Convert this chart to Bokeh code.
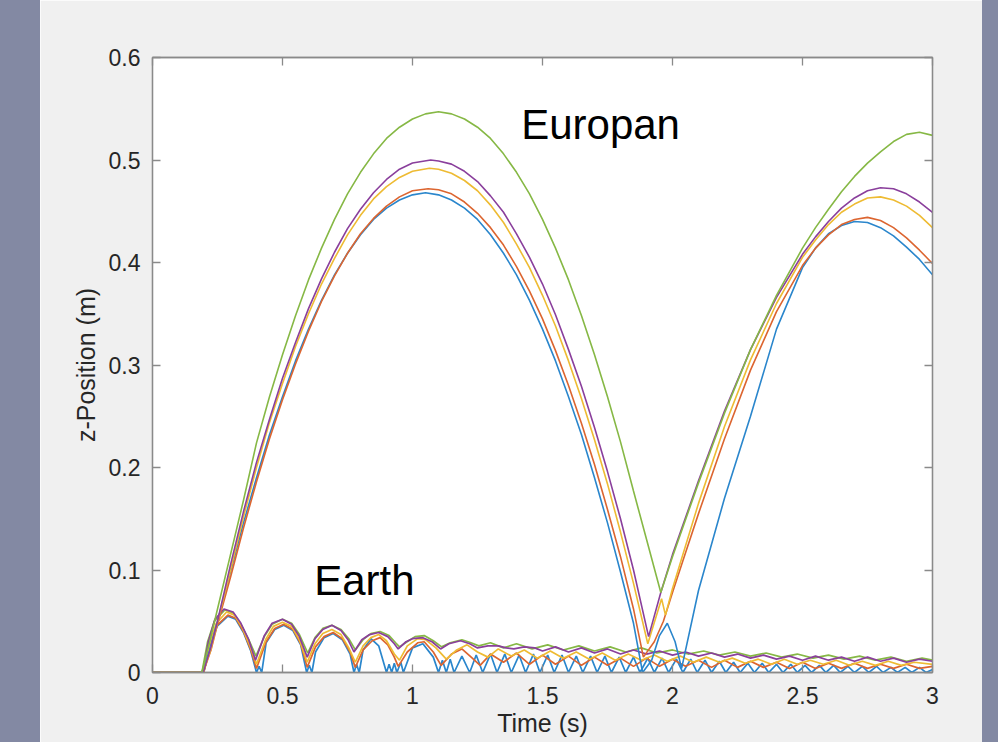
from bokeh.plotting import figure
from bokeh.models import Range1d, LinearAxis, FixedTicker, Label, Div
from bokeh.layouts import row
from bokeh.embed import file_html
from bokeh.resources import INLINE

# ---------------- data ----------------
x_ticks = [0, 0.5, 1, 1.5, 2, 2.5, 3]
x_tick_labels = ["0", "0.5", "1", "1.5", "2", "2.5", "3"]
y_ticks = [0, 0.1, 0.2, 0.3, 0.4, 0.5, 0.6]
y_tick_labels = ["0", "0.1", "0.2", "0.3", "0.4", "0.5", "0.6"]

# Europa runs (time s, z m)
eu_blue_t = [0, 0.19, 0.22, 0.25, 0.3, 0.35, 0.4, 0.45, 0.5, 0.55, 0.6, 0.65, 0.7, 0.75, 0.8, 0.85, 0.9, 0.95, 1.0, 1.05,
             1.1, 1.15, 1.2, 1.25, 1.3, 1.35, 1.4, 1.45, 1.5, 1.55, 1.6, 1.65, 1.7, 1.75, 1.8, 1.85,
             1.885, 1.92, 1.95, 1.98, 2.01, 2.035, 2.1, 2.2, 2.3, 2.4, 2.5, 2.55, 2.6, 2.65, 2.7, 2.75, 2.8, 2.85, 2.9, 2.95, 3.0]
eu_blue_z = [0, 0, 0.022, 0.05, 0.098, 0.146, 0.19, 0.232, 0.269, 0.304, 0.335, 0.363, 0.388, 0.409, 0.427, 0.442, 0.453, 0.461, 0.466, 0.468,
             0.466, 0.461, 0.453, 0.442, 0.427, 0.409, 0.388, 0.363, 0.335, 0.304, 0.269, 0.232, 0.19, 0.146, 0.098, 0.048,
             0.0, 0.012, 0.036, 0.048, 0.03, 0.004, 0.08, 0.17, 0.25, 0.335, 0.395, 0.414, 0.428, 0.436, 0.44, 0.439, 0.434, 0.426, 0.415, 0.403, 0.388]

eu_orange_t = [0, 0.195, 0.225, 0.25, 0.3, 0.35, 0.4, 0.45, 0.5, 0.55, 0.6, 0.65, 0.7, 0.75, 0.8, 0.85, 0.9, 0.95, 1.0, 1.06,
               1.1, 1.15, 1.2, 1.25, 1.3, 1.35, 1.4, 1.45, 1.5, 1.55, 1.6, 1.65, 1.7, 1.75, 1.8,
               1.85, 1.888, 1.93, 1.965, 2.0, 2.04, 2.1, 2.2, 2.3, 2.4, 2.5, 2.55, 2.6, 2.65, 2.7, 2.75, 2.8, 2.85, 2.9, 2.95, 3.0]
eu_orange_z = [0, 0, 0.022, 0.047, 0.093, 0.141, 0.186, 0.228, 0.266, 0.301, 0.333, 0.362, 0.387, 0.409, 0.428, 0.443, 0.455, 0.464, 0.47, 0.472,
               0.471, 0.467, 0.459, 0.448, 0.434, 0.417, 0.396, 0.372, 0.345, 0.314, 0.28, 0.243, 0.203, 0.159, 0.113,
               0.062, 0.015, 0.03, 0.05, 0.078, 0.109, 0.155, 0.228, 0.295, 0.352, 0.397, 0.414, 0.427, 0.437, 0.442, 0.444, 0.441, 0.434, 0.424, 0.412, 0.399]

eu_yellow_t = [0, 0.195, 0.225, 0.25, 0.3, 0.35, 0.4, 0.45, 0.5, 0.55, 0.6, 0.65, 0.7, 0.75, 0.8, 0.85, 0.9, 0.95, 1.0, 1.065,
               1.1, 1.15, 1.2, 1.25, 1.3, 1.35, 1.4, 1.45, 1.5, 1.55, 1.6, 1.65, 1.7, 1.75, 1.8,
               1.85, 1.905, 1.958, 1.973, 2.0, 2.1, 2.2, 2.3, 2.4, 2.5, 2.55, 2.6, 2.65, 2.7, 2.75, 2.8, 2.85, 2.9, 2.95, 3.0]
eu_yellow_z = [0, 0, 0.023, 0.049, 0.1, 0.152, 0.2, 0.244, 0.282, 0.318, 0.35, 0.379, 0.404, 0.427, 0.446, 0.462, 0.474, 0.483, 0.489, 0.492,
               0.491, 0.487, 0.48, 0.47, 0.456, 0.439, 0.418, 0.395, 0.368, 0.338, 0.304, 0.267, 0.227, 0.184, 0.137,
               0.087, 0.028, 0.072, 0.056, 0.082, 0.165, 0.24, 0.305, 0.36, 0.405, 0.422, 0.437, 0.449, 0.457, 0.463, 0.464, 0.461, 0.455, 0.446, 0.434]

eu_purple_t = [0, 0.195, 0.225, 0.25, 0.3, 0.35, 0.4, 0.45, 0.5, 0.55, 0.6, 0.65, 0.7, 0.75, 0.8, 0.85, 0.9, 0.95, 1.0, 1.07,
               1.1, 1.15, 1.2, 1.25, 1.3, 1.35, 1.4, 1.45, 1.5, 1.55, 1.6, 1.65, 1.7, 1.75, 1.8,
               1.85, 1.908, 1.955, 2.0, 2.1, 2.2, 2.3, 2.4, 2.5, 2.55, 2.6, 2.65, 2.7, 2.75, 2.8, 2.85, 2.9, 2.95, 3.0]
eu_purple_z = [0, 0, 0.025, 0.05, 0.105, 0.157, 0.205, 0.247, 0.287, 0.322, 0.355, 0.384, 0.41, 0.433, 0.452, 0.468, 0.481, 0.491, 0.497, 0.5,
               0.499, 0.496, 0.489, 0.479, 0.465, 0.449, 0.428, 0.405, 0.379, 0.349, 0.315, 0.279, 0.239, 0.196, 0.15,
               0.1, 0.035, 0.078, 0.115, 0.187, 0.255, 0.315, 0.366, 0.408, 0.425, 0.44, 0.453, 0.463, 0.47, 0.473, 0.472, 0.467, 0.459, 0.449]

eu_green_t = [0, 0.19, 0.22, 0.25, 0.3, 0.35, 0.4, 0.45, 0.5, 0.55, 0.6, 0.65, 0.7, 0.75, 0.8, 0.85, 0.9, 0.95, 1.0, 1.05,
              1.1, 1.15, 1.2, 1.25, 1.3, 1.35, 1.4, 1.45, 1.5, 1.55, 1.6, 1.65, 1.7, 1.75, 1.8, 1.85, 1.9,
              1.955, 2.0, 2.1, 2.2, 2.3, 2.4, 2.5, 2.55, 2.6, 2.65, 2.7, 2.75, 2.8, 2.85, 2.9, 2.95, 3.0]
eu_green_z = [0, 0, 0.03, 0.062, 0.115, 0.168, 0.224, 0.269, 0.31, 0.348, 0.383, 0.414, 0.442, 0.467, 0.488, 0.506, 0.521, 0.532, 0.54, 0.545,
              0.547, 0.545, 0.54, 0.532, 0.521, 0.506, 0.488, 0.467, 0.442, 0.414, 0.383, 0.348, 0.31, 0.269, 0.225, 0.177, 0.13,
              0.078, 0.113, 0.185, 0.253, 0.315, 0.368, 0.414, 0.434, 0.452, 0.469, 0.484, 0.497, 0.508, 0.518, 0.525, 0.527, 0.524]

# Earth runs (time s, z m)
er_blue_t = [0, 0.197, 0.222, 0.248, 0.29, 0.32, 0.35, 0.378, 0.4, 0.41, 0.42, 0.437, 0.47, 0.505, 0.54, 0.57, 0.593, 0.603, 0.613, 0.627,
             0.66, 0.695, 0.73, 0.76, 0.775, 0.785, 0.795, 0.81, 0.84, 0.87, 0.9, 0.91, 0.92, 0.93, 0.94, 0.955, 0.965, 1.0, 1.04, 1.08,
             1.1, 1.115, 1.13, 1.145, 1.16,
             1.19, 1.22, 1.245, 1.27, 1.3, 1.325, 1.355, 1.38, 1.41, 1.435, 1.465, 1.49, 1.52, 1.545, 1.575, 1.6, 1.63, 1.655, 1.685, 1.71,
             1.74, 1.765, 1.795, 1.82, 1.85, 1.875, 1.905, 1.93, 1.96, 1.985, 2.015, 2.04, 2.07, 2.095, 2.125, 2.15, 2.18, 2.205, 2.235, 2.26,
             2.29, 2.315, 2.345, 2.37, 2.4, 2.425, 2.455, 2.48, 2.51, 2.535, 2.565, 2.59, 2.62, 2.645, 2.675, 2.7, 2.73, 2.755, 2.785, 2.81,
             2.84, 2.865, 2.895, 2.92, 2.95, 2.975, 3.0]
er_blue_z = [0, 0, 0.026, 0.045, 0.055, 0.052, 0.039, 0.021, 0, 0.006, 0, 0.029, 0.042, 0.046, 0.041, 0.027, 0, 0.007, 0, 0.02,
             0.034, 0.038, 0.032, 0.018, 0, 0.008, 0, 0.022, 0.033, 0.026, 0, 0.008, 0, 0.009, 0, 0.01, 0, 0.024, 0.028, 0.015,
             0, 0.012, 0, 0.013, 0,
             0.016, 0, 0.017, 0, 0.018, 0, 0.018, 0, 0.017, 0, 0.018, 0, 0.017, 0, 0.017, 0, 0.016, 0, 0.016, 0,
             0.016, 0, 0.015, 0, 0.015, 0, 0.014, 0, 0.014, 0, 0.013, 0, 0.013, 0, 0.012, 0, 0.011, 0, 0.01, 0,
             0.009, 0, 0.009, 0, 0.008, 0, 0.008, 0, 0.007, 0, 0.007, 0, 0.007, 0, 0.006, 0, 0.006, 0, 0.006, 0,
             0.005, 0, 0.005, 0, 0.005, 0, 0.003]

er_orange_t = [0, 0.197, 0.222, 0.248, 0.29, 0.32, 0.35, 0.378, 0.4, 0.437, 0.47, 0.505, 0.54, 0.57, 0.595, 0.627, 0.66, 0.695, 0.73, 0.76,
               0.78, 0.81, 0.845, 0.875, 0.905, 0.93, 0.945, 0.98, 1.02, 1.045, 1.08, 1.11, 1.15, 1.19, 1.23, 1.26,
               1.3, 1.35, 1.4, 1.45, 1.5, 1.55, 1.6, 1.65, 1.7, 1.75, 1.8, 1.85, 1.9, 1.95, 2.0, 2.05, 2.1, 2.15, 2.2, 2.25,
               2.3, 2.35, 2.4, 2.45, 2.5, 2.55, 2.6, 2.65, 2.7, 2.75, 2.8, 2.85, 2.9, 2.95, 3.0]
er_orange_z = [0, 0, 0.027, 0.046, 0.056, 0.053, 0.04, 0.022, 0.004, 0.03, 0.043, 0.047, 0.042, 0.028, 0.005, 0.025, 0.035, 0.039, 0.033, 0.02,
               0.005, 0.022, 0.031, 0.034, 0.027, 0.015, 0.006, 0.02, 0.029, 0.03, 0.02, 0.007, 0.018, 0.023, 0.014, 0.007,
               0.018, 0.01, 0.019, 0.008, 0.017, 0.008, 0.016, 0.007, 0.015, 0.007, 0.014, 0.006, 0.014, 0.006, 0.013, 0.006, 0.012, 0.005, 0.012, 0.005,
               0.011, 0.005, 0.01, 0.004, 0.01, 0.004, 0.009, 0.004, 0.009, 0.004, 0.008, 0.004, 0.008, 0.004, 0.006]

er_yellow_t = [0, 0.196, 0.22, 0.245, 0.285, 0.315, 0.345, 0.375, 0.4, 0.435, 0.465, 0.5, 0.535, 0.565, 0.595, 0.625, 0.655, 0.69, 0.725, 0.755,
               0.78, 0.81, 0.84, 0.87, 0.9, 0.93, 0.95, 0.98, 1.02, 1.05, 1.09, 1.13, 1.17, 1.21, 1.25, 1.29, 1.33,
               1.38, 1.43, 1.48, 1.53, 1.58, 1.63, 1.68, 1.73, 1.78, 1.83, 1.88, 1.93, 1.98, 2.03, 2.08, 2.13, 2.18, 2.23, 2.28, 2.33,
               2.38, 2.43, 2.48, 2.53, 2.58, 2.63, 2.68, 2.73, 2.78, 2.83, 2.88, 2.93, 3.0]
er_yellow_z = [0, 0, 0.028, 0.048, 0.059, 0.056, 0.044, 0.026, 0.008, 0.032, 0.045, 0.049, 0.045, 0.032, 0.01, 0.028, 0.038, 0.042, 0.037, 0.024,
               0.01, 0.026, 0.034, 0.037, 0.031, 0.018, 0.012, 0.026, 0.033, 0.032, 0.024, 0.013, 0.022, 0.027, 0.02, 0.015, 0.023,
               0.016, 0.022, 0.014, 0.021, 0.014, 0.02, 0.013, 0.019, 0.012, 0.018, 0.012, 0.017, 0.011, 0.016, 0.01, 0.015, 0.01, 0.014, 0.009, 0.013,
               0.008, 0.013, 0.008, 0.012, 0.008, 0.012, 0.007, 0.011, 0.007, 0.011, 0.007, 0.01, 0.008]

er_purple_t = [0, 0.195, 0.215, 0.24, 0.275, 0.31, 0.34, 0.37, 0.396, 0.43, 0.46, 0.5, 0.535, 0.565, 0.595, 0.625, 0.655, 0.69, 0.725, 0.752,
               0.775, 0.805, 0.835, 0.87, 0.905, 0.93, 0.945, 0.975, 1.0, 1.04, 1.075, 1.108, 1.14, 1.185, 1.22, 1.25, 1.29, 1.33, 1.36, 1.39,
               1.43, 1.47, 1.5, 1.55, 1.6, 1.65, 1.7, 1.75, 1.8, 1.85, 1.9, 1.95, 2.0, 2.05, 2.1, 2.15, 2.2, 2.25, 2.3, 2.35,
               2.4, 2.45, 2.5, 2.55, 2.6, 2.65, 2.7, 2.75, 2.8, 2.85, 2.9, 2.95, 3.0]
er_purple_z = [0, 0, 0.03, 0.052, 0.062, 0.059, 0.048, 0.032, 0.012, 0.036, 0.048, 0.052, 0.047, 0.035, 0.015, 0.033, 0.042, 0.046, 0.041, 0.032,
               0.02, 0.032, 0.037, 0.039, 0.035, 0.028, 0.023, 0.03, 0.033, 0.034, 0.03, 0.023, 0.028, 0.031, 0.028, 0.024, 0.026, 0.026, 0.024, 0.023,
               0.025, 0.024, 0.021, 0.025, 0.02, 0.024, 0.019, 0.023, 0.018, 0.022, 0.018, 0.021, 0.017, 0.02, 0.016, 0.019, 0.015, 0.018, 0.014, 0.017,
               0.013, 0.016, 0.012, 0.016, 0.012, 0.015, 0.011, 0.015, 0.011, 0.014, 0.01, 0.013, 0.011]

er_green_t = [0, 0.19, 0.212, 0.238, 0.278, 0.31, 0.34, 0.37, 0.398, 0.43, 0.46, 0.5, 0.535, 0.565, 0.597, 0.625, 0.655, 0.69, 0.725, 0.755,
              0.78, 0.81, 0.84, 0.875, 0.91, 0.935, 0.95, 0.985, 1.01, 1.045, 1.08, 1.112, 1.145, 1.19, 1.225, 1.255, 1.3, 1.35, 1.4,
              1.46, 1.52, 1.58, 1.64, 1.7, 1.76, 1.82, 1.88, 1.94, 2.0, 2.06, 2.12, 2.18, 2.24, 2.3, 2.36, 2.42, 2.48, 2.54, 2.6,
              2.66, 2.72, 2.78, 2.84, 2.9, 2.96, 3.0]
er_green_z = [0, 0, 0.03, 0.05, 0.061, 0.058, 0.047, 0.032, 0.016, 0.035, 0.047, 0.052, 0.048, 0.037, 0.019, 0.034, 0.043, 0.046, 0.042, 0.033,
              0.022, 0.032, 0.038, 0.04, 0.036, 0.029, 0.025, 0.031, 0.035, 0.036, 0.031, 0.025, 0.029, 0.032, 0.029, 0.026, 0.029, 0.024, 0.028,
              0.023, 0.027, 0.022, 0.026, 0.021, 0.025, 0.02, 0.024, 0.019, 0.022, 0.018, 0.021, 0.017, 0.02, 0.016, 0.019, 0.015, 0.018, 0.014, 0.017,
              0.013, 0.016, 0.012, 0.015, 0.011, 0.014, 0.012]

# ---------------- styling ----------------
BLUE, ORANGE, YELLOW, PURPLE, GREEN = "#2a86cc", "#dc6530", "#eebb33", "#8a3f9c", "#86b845"
FRAME = "#8a8a8a"
TEXT = "#262626"
FONT = "Liberation Sans"
PANEL = "#f0f0f0"
STRIP = "#8389a3"
H = 742

p = figure(width=942, height=H, x_range=Range1d(0, 3), y_range=Range1d(0, 0.6),
           output_backend="svg", toolbar_location=None,
           min_border_left=112, min_border_right=50, min_border_top=57, min_border_bottom=70)
p.background_fill_color = "white"
p.border_fill_color = PANEL
p.outline_line_color = FRAME
p.outline_line_width = 1.3
p.xgrid.visible = False
p.ygrid.visible = False

earth = [(er_green_t, er_green_z, GREEN), (er_blue_t, er_blue_z, BLUE), (er_orange_t, er_orange_z, ORANGE),
         (er_yellow_t, er_yellow_z, YELLOW), (er_purple_t, er_purple_z, PURPLE)]
for t, z, c in earth:
    p.line(t, z, line_color=c, line_width=1.7)

europa = [(eu_blue_t, eu_blue_z, BLUE), (eu_orange_t, eu_orange_z, ORANGE), (eu_yellow_t, eu_yellow_z, YELLOW),
          (eu_purple_t, eu_purple_z, PURPLE), (eu_green_t, eu_green_z, GREEN)]
for t, z, c in europa:
    p.line(t, z, line_color=c, line_width=1.6)

bottom = p.below[0]
left = p.left[0]
bottom.ticker = FixedTicker(ticks=x_ticks)
left.ticker = FixedTicker(ticks=y_ticks)
bottom.major_label_overrides = dict(zip(x_ticks, x_tick_labels))
left.major_label_overrides = dict(zip(y_ticks, y_tick_labels))

top = LinearAxis(ticker=FixedTicker(ticks=x_ticks), major_label_overrides={t: "" for t in x_ticks})
right = LinearAxis(ticker=FixedTicker(ticks=y_ticks), major_label_overrides={t: "" for t in y_ticks})
p.add_layout(top, "above")
p.add_layout(right, "right")

for ax in [bottom, left, top, right]:
    ax.axis_line_color = FRAME
    ax.axis_line_width = 1.3
    ax.major_tick_line_color = FRAME
    ax.major_tick_line_width = 1.3
    ax.major_tick_in = 8
    ax.major_tick_out = 0
    ax.minor_tick_line_color = None
    ax.major_label_text_font = FONT
    ax.major_label_text_color = TEXT
    ax.major_label_text_font_size = "23px"
    ax.axis_label_text_font = FONT
    ax.axis_label_text_font_size = "25px"
    ax.axis_label_text_font_style = "normal"
    ax.axis_label_text_color = TEXT

bottom.major_label_standoff = 14
left.major_label_standoff = 12

left.axis_label = "z-Position (m)"
left.axis_label_standoff = 6
bottom.axis_label = "Time (s)"
bottom.axis_label_standoff = 2

p.add_layout(Label(x=1.418, y=0.535, text="Europan", text_align="left", text_baseline="alphabetic",
                   text_font=FONT, text_font_size="42px", text_color="black"))
p.add_layout(Label(x=0.622, y=0.090, text="Earth", text_align="left", text_baseline="alphabetic",
                   text_font=FONT, text_font_size="42px", text_color="black"))

left_strip = Div(width=40, height=H, margin=0, styles={"background-color": STRIP})
right_strip = Div(width=16, height=H, margin=0, styles={"background-color": STRIP})
layout = row(left_strip, p, right_strip, spacing=0)

open("out.html", "w").write(file_html(layout, INLINE))
